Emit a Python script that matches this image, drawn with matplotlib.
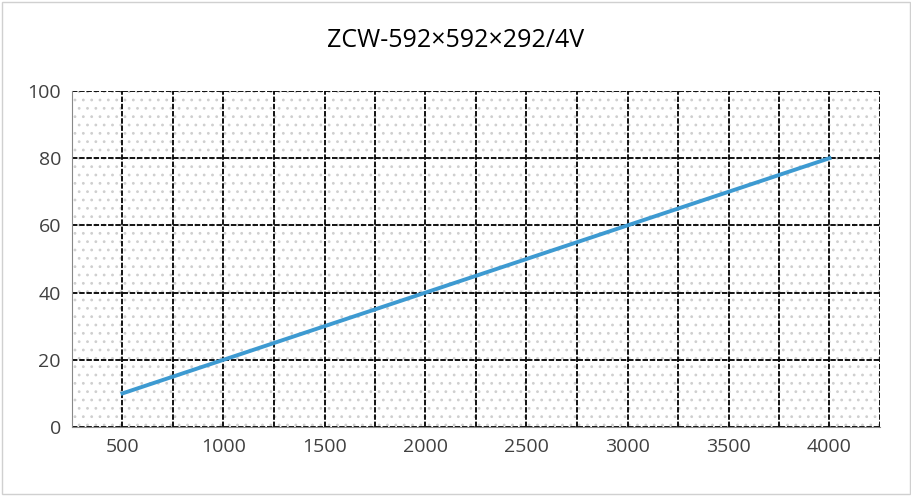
import numpy as np
import matplotlib.pyplot as plt

airflow = [500, 1000, 1500, 2000, 2500, 3000, 3500, 4000]
resistance = [10, 20, 30, 40, 50, 60, 70, 80]
x_labels = ['500', '1000', '1500', '2000', '2500', '3000', '3500', '4000']

plt.rcParams['font.family'] = ['Open Sans', 'DejaVu Sans']
plt.rcParams['hatch.color'] = '#c8c8c8'
plt.rcParams['hatch.linewidth'] = 0.8

fig = plt.figure(figsize=(9.12, 4.96), dpi=100)
ax = fig.add_axes([72 / 912, 1 - 427 / 496, 808 / 912, 336 / 496])
fig.patches.append(plt.Rectangle((0.002, 0.004), 0.996, 0.992, transform=fig.transFigure,
                                 fill=False, edgecolor='#d0d0d0', lw=1))

ax.add_patch(plt.Rectangle((0, 0), 1, 1, transform=ax.transAxes, facecolor='white',
                           hatch='..', edgecolor='#cfcfcf', lw=0, zorder=0))
ax.plot(airflow, resistance, color='#3d9ad1', lw=2.8, zorder=3)

ax.set_xlim(250, 4250)
ax.set_ylim(0, 100)
ax.set_xticks(np.arange(250, 4251, 250), minor=True)
ax.set_xticks(airflow)
ax.set_xticklabels(x_labels)
ax.set_yticks(range(0, 101, 20))
ax.grid(True, which='both', color='black', ls=(0, (3, 1)), lw=1.3, zorder=1)
ax.tick_params(which='both', length=0, labelsize=14, colors='#404040', pad=8)
for s in ax.spines.values():
    s.set_visible(False)
ax.spines['left'].set_visible(True)
ax.spines['bottom'].set_visible(True)
ax.spines['left'].set_color('#888888')
ax.spines['bottom'].set_color('#888888')

fig.text(0.5, 0.918, 'ZCW-592×592×292/4V', ha='center', va='center', fontsize=18)
fig.savefig('out.png')
